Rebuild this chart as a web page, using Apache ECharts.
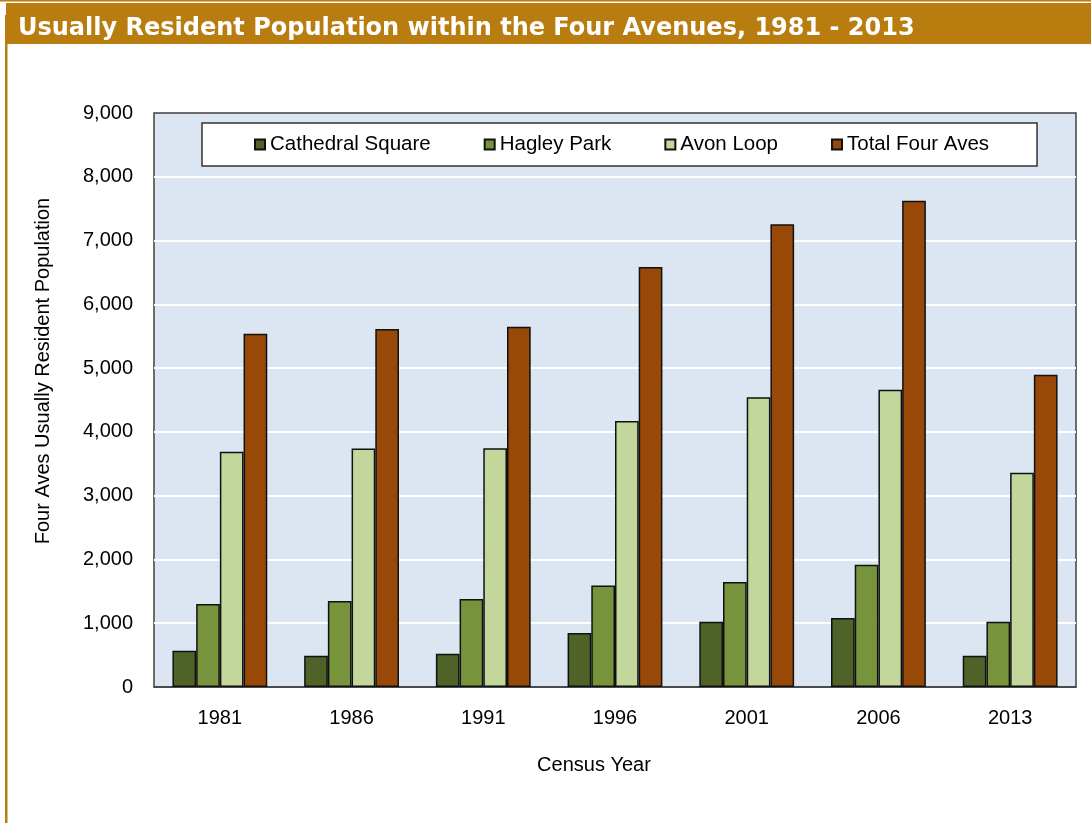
<!DOCTYPE html>
<html>
<head>
<meta charset="utf-8">
<title>Usually Resident Population within the Four Avenues</title>
<script src="https://cdn.jsdelivr.net/npm/echarts@6/dist/echarts.min.js"></script>
<style>
  html, body { margin: 0; padding: 0; background: #fff; }
  #chart { width: 1091px; height: 823px; }
</style>
</head>
<body>
<div id="chart"></div>
<script>
// census years on the x axis
const years = ["1981", "1986", "1991", "1996", "2001", "2006", "2013"]

// usually resident population per area
const cathedralSquare = [570, 490, 520, 845, 1025, 1080, 490]
const hagleyPark = [1300, 1350, 1380, 1590, 1645, 1915, 1025]
const avonLoop = [3690, 3740, 3745, 4170, 4545, 4660, 3360]
const totalFourAves = [5540, 5615, 5650, 6585, 7255, 7625, 4895]

const seriesNames = ["Cathedral Square", "Hagley Park", "Avon Loop", "Total Four Aves"]
const seriesColors = ["#4F6228", "#77933C", "#C3D69B", "#984807"]

const gold = "#B87D0E"
const font = "Liberation Sans, Arial, sans-serif"

const chart = echarts.init(document.getElementById("chart"))

function barSeries(name, values, color) {
  return {
    name: name,
    type: "bar",
    data: values,
    barGap: "0%",
    barCategoryGap: "28%",
    itemStyle: {
      color: color,
      borderColor: "#111",
      borderWidth: 1.5
    }
  }
}

const option = {
  backgroundColor: "#fff",
  animation: false,
  textStyle: { fontFamily: font },
  graphic: [
    // thin line on the very top
    { type: "rect", shape: { x: 0, y: 0, width: 1091, height: 1.5 }, style: { fill: gold } },
    // title band
    { type: "rect", shape: { x: 6, y: 3, width: 1085, height: 41 }, style: { fill: gold } },
    // left border line
    { type: "rect", shape: { x: 5, y: 15, width: 2.5, height: 808 }, style: { fill: gold } },
    {
      type: "text",
      x: 18,
      y: 29,
      style: {
        text: "Usually Resident Population within the Four Avenues, 1981 - 2013",
        fill: "#fff",
        font: "bold 24px DejaVu Sans, Verdana, sans-serif",
        textAlign: "left",
        textVerticalAlign: "middle"
      }
    },
    // axis titles
    {
      type: "text",
      x: 43,
      y: 371,
      rotation: Math.PI / 2,
      style: {
        text: "Four Aves Usually Resident Population",
        fill: "#000",
        font: "20px " + font,
        textAlign: "center",
        textVerticalAlign: "middle"
      }
    },
    {
      type: "text",
      x: 594,
      y: 765,
      style: {
        text: "Census Year",
        fill: "#000",
        font: "20px " + font,
        textAlign: "center",
        textVerticalAlign: "middle"
      }
    }
  ],
  legend: {
    left: 202,
    top: 123,
    icon: "rect",
    itemWidth: 10,
    itemHeight: 10,
    itemGap: 53,
    padding: [11, 48, 11, 52],
    backgroundColor: "#fff",
    borderColor: "#333",
    borderWidth: 1.5,
    textStyle: { fontSize: 20.5, color: "#000", fontFamily: font, lineHeight: 20 },
    data: seriesNames
  },
  grid: {
    left: 154,
    right: 15,
    top: 113,
    bottom: 136,
    show: true,
    backgroundColor: "#DCE6F2",
    borderColor: "#404040",
    borderWidth: 1.5
  },
  xAxis: {
    type: "category",
    data: years,
    axisLine: { lineStyle: { color: "#404040", width: 1.5 } },
    axisTick: { show: false },
    axisLabel: { color: "#000", fontSize: 20, margin: 21 }
  },
  yAxis: {
    type: "value",
    min: 0,
    max: 9000,
    interval: 1000,
    axisLine: { show: false },
    axisTick: { show: false },
    axisLabel: {
      color: "#000",
      fontSize: 20,
      margin: 21,
      formatter: v => v.toLocaleString("en-US")
    },
    splitLine: {
      showMinLine: false,
      showMaxLine: false,
      lineStyle: { color: "#fff", width: 2 }
    }
  },
  series: [
    barSeries(seriesNames[0], cathedralSquare, seriesColors[0]),
    barSeries(seriesNames[1], hagleyPark, seriesColors[1]),
    barSeries(seriesNames[2], avonLoop, seriesColors[2]),
    barSeries(seriesNames[3], totalFourAves, seriesColors[3])
  ]
}

chart.setOption(option)
</script>
</body>
</html>
